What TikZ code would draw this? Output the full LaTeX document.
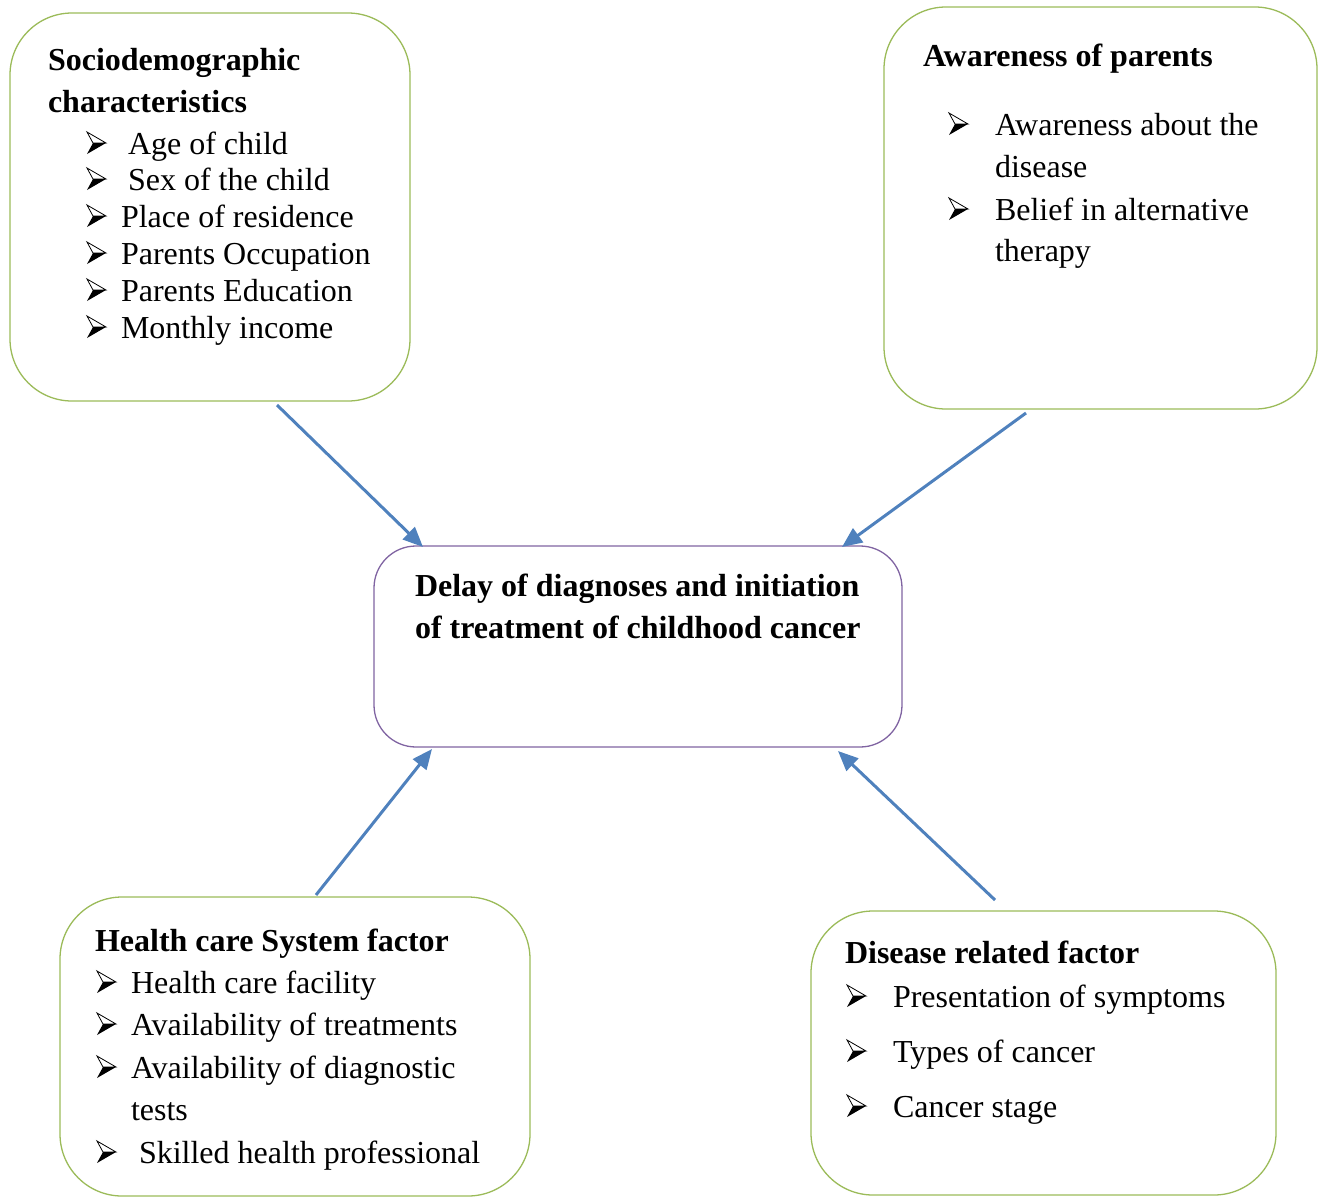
\documentclass[tikz,border=0pt]{standalone}
\usepackage{fontspec}
\setmainfont{Liberation Serif}
\usetikzlibrary{arrows.meta,calc}
\definecolor{boxgreen}{HTML}{9BBB59}
\definecolor{boxpurple}{HTML}{8064A2}
\definecolor{arrowblue}{HTML}{4F81BD}
\begin{document}
\begin{tikzpicture}[x=1pt,y=-1pt,
  gbox/.style={draw=boxgreen, line width=1.3pt, rounded corners=62pt, inner sep=0pt, outer sep=0pt, anchor=north west},
  pbox/.style={draw=boxpurple, line width=1.3pt, rounded corners=42pt, inner sep=0pt, outer sep=0pt, anchor=north west},
  txt/.style={anchor=base west, inner sep=0pt, outer sep=0pt, font=\fontsize{32}{37}\selectfont},
  head/.style={anchor=base west, inner sep=0pt, outer sep=0pt, font=\fontsize{32}{37}\selectfont\bfseries},
  conn/.style={draw=arrowblue, line width=3pt, -{Triangle[length=20pt,width=17pt]}},
  bul/.pic={
    \draw[line width=0.8pt, fill=white, line join=miter] (0,-22) -- (19,-11) -- (6,-11) -- cycle;
    \fill[black] (6,-11) -- (19,-11) -- (0,0) -- cycle;
  }]
\useasboundingbox (0,0) rectangle (1325,1197);

% boxes
\node[gbox, minimum width=400pt, minimum height=388pt] (b1) at (10,13) {};
\node[gbox, minimum width=433pt, minimum height=402pt] (b2) at (884,7) {};
\node[pbox, minimum width=528pt, minimum height=201pt] (c) at (374,546) {};
\node[gbox, minimum width=470pt, minimum height=299pt] (b3) at (60,897) {};
\node[gbox, minimum width=465pt, minimum height=284pt] (b4) at (811,911) {};

% box 1
\node[head] (h1a) at (48,70) {Sociodemographic};
\node[head] (h1b) at (48,112) {characteristics};
\pic at (87,154) {bul};
\node[txt] (t1a) at (128,154) {Age of child};
\pic at (87,190) {bul};
\node[txt] (t1b) at (128,190) {Sex of the child};
\pic at (87,227) {bul};
\node[txt] (t1c) at (121,227) {Place of residence};
\pic at (87,264) {bul};
\node[txt] (t1d) at (121,264) {Parents Occupation};
\pic at (87,301) {bul};
\node[txt] (t1e) at (121,301) {Parents Education};
\pic at (87,338) {bul};
\node[txt] (t1f) at (121,338) {Monthly income};

% box 2
\node[head] (h2) at (923,66) {Awareness of parents};
\pic at (949,135) {bul};
\node[txt] (t2a) at (995,135) {Awareness about the};
\node[txt] (t2b) at (995,177) {disease};
\pic at (949,220) {bul};
\node[txt] (t2c) at (995,220) {Belief in alternative};
\node[txt] (t2d) at (995,261) {therapy};

% center
\node[head] (hc1) at (415,596) {Delay of diagnoses and initiation};
\node[head] (hc2) at (415,638) {of treatment of childhood cancer};

% box 3
\node[head] (h3) at (95,951) {Health care System factor};
\pic at (97,993) {bul};
\node[txt] (t3a) at (131,993) {Health care facility};
\pic at (97,1035) {bul};
\node[txt] (t3b) at (131,1035) {Availability of treatments};
\pic at (97,1078) {bul};
\node[txt] (t3c) at (131,1078) {Availability of diagnostic};
\node[txt] (t3d) at (131,1120) {tests};
\pic at (97,1163) {bul};
\node[txt] (t3e) at (139,1163) {Skilled health professional};

% box 4
\node[head] (h4) at (845,963) {Disease related factor};
\pic at (847,1007) {bul};
\node[txt] (t4a) at (893,1007) {Presentation of symptoms};
\pic at (847,1062) {bul};
\node[txt] (t4b) at (893,1062) {Types of cancer};
\pic at (847,1117) {bul};
\node[txt] (t4c) at (893,1117) {Cancer stage};

% connectors
\draw[conn] ([xshift=267pt,yshift=-4pt]b1.south west) -- ([xshift=49pt,yshift=-1pt]c.north west);
\draw[conn] ([xshift=142pt,yshift=-4pt]b2.south west) -- ([xshift=468pt,yshift=-1pt]c.north west);
\draw[conn] ([xshift=256pt,yshift=2pt]b3.north west) -- ([xshift=58pt,yshift=-2pt]c.south west);
\draw[conn] ([xshift=184pt,yshift=11pt]b4.north west) -- ([xshift=464pt,yshift=-4pt]c.south west);
\end{tikzpicture}
\end{document}
